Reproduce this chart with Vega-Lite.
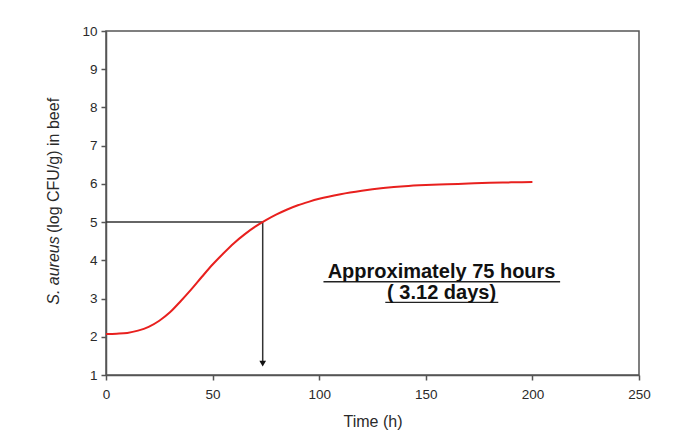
{
  "$schema": "https://vega.github.io/schema/vega-lite/v6.json",
  "width": 533,
  "height": 344,
  "autosize": {"type": "none"},
  "padding": {"left": 106, "top": 31, "right": 57, "bottom": 66},
  "background": "white",
  "config": {
    "font": "Liberation Sans",
    "view": {"stroke": "#555", "strokeWidth": 1.5},
    "axis": {
      "grid": false,
      "domainColor": "#555",
      "domainWidth": 1.5,
      "tickColor": "#555",
      "tickWidth": 1.5,
      "tickSize": 5,
      "labelFont": "Liberation Sans",
      "labelFontSize": 13.5,
      "labelColor": "#2a2a2a",
      "labelOverlap": false,
      "labelFlush": false,
      "titleFont": "Liberation Sans",
      "titleFontSize": 16,
      "titleFontWeight": "normal",
      "titleColor": "#2a2a2a"
    }
  },
  "resolve": {"scale": {"y": "shared"}, "axis": {"y": "independent"}},
  "datasets": {
    "curve": [
      {"t": 0, "v": 2.07}, {"t": 5, "v": 2.08}, {"t": 10, "v": 2.1}, {"t": 15, "v": 2.16},
      {"t": 20, "v": 2.26}, {"t": 25, "v": 2.42}, {"t": 30, "v": 2.64}, {"t": 35, "v": 2.93},
      {"t": 40, "v": 3.24}, {"t": 45, "v": 3.57}, {"t": 50, "v": 3.89}, {"t": 55, "v": 4.18},
      {"t": 60, "v": 4.45}, {"t": 65, "v": 4.68}, {"t": 70, "v": 4.88}, {"t": 75, "v": 5.05},
      {"t": 80, "v": 5.2}, {"t": 85, "v": 5.33}, {"t": 90, "v": 5.44}, {"t": 95, "v": 5.53},
      {"t": 100, "v": 5.61}, {"t": 110, "v": 5.73}, {"t": 120, "v": 5.82}, {"t": 130, "v": 5.89},
      {"t": 140, "v": 5.94}, {"t": 150, "v": 5.97}, {"t": 160, "v": 5.99}, {"t": 170, "v": 6.01},
      {"t": 180, "v": 6.03}, {"t": 190, "v": 6.04}, {"t": 200, "v": 6.05}
    ],
    "refs": [
      {"x": 0, "x2": 73.5, "y": 5, "y2": 5},
      {"x": 73.5, "x2": 73.5, "y": 5, "y2": 1.35}
    ],
    "underlines": [
      {"x": 102, "x2": 213, "y": 3.44, "y2": 3.44},
      {"x": 131, "x2": 184, "y": 2.9, "y2": 2.9}
    ],
    "arrow": [{"x": 73.5, "y": 1.3}],
    "notes": [
      {"x": 157.4, "y": 3.53, "label": "Approximately 75 hours"},
      {"x": 157.4, "y": 3.0, "label": "( 3.12 days)"}
    ]
  },
  "layer": [
    {
      "data": {"name": "refs"},
      "mark": {"type": "rule", "color": "#333", "strokeWidth": 1.5},
      "encoding": {
        "x": {"field": "x", "type": "quantitative", "scale": {"domain": [0, 250], "nice": false},
              "axis": {"values": [0, 50, 100, 150, 200, 250], "title": "Time (h)", "labelPadding": 7, "titlePadding": 13}},
        "x2": {"field": "x2"},
        "y": {"field": "y", "type": "quantitative", "scale": {"domain": [1, 10], "nice": false},
              "axis": {"values": [1, 2, 3, 4, 5, 6, 7, 8, 9, 10], "labelOverlap": false, "title": "(log CFU/g) in beef", "labelPadding": 4, "titleX": -45, "titleY": 134}},
        "y2": {"field": "y2"}
      }
    },
    {
      "data": {"name": "arrow"},
      "mark": {"type": "point", "shape": "triangle-down", "filled": true, "color": "#111", "size": 45, "opacity": 1},
      "encoding": {
        "x": {"field": "x", "type": "quantitative"},
        "y": {"field": "y", "type": "quantitative",
              "axis": {"orient": "left", "labels": false, "ticks": false, "domain": false, "title": "S. aureus", "titleFontStyle": "italic", "titleX": -45, "titleY": 239}}
      }
    },
    {
      "data": {"name": "curve"},
      "mark": {"type": "line", "color": "#e8201e", "strokeWidth": 2, "interpolate": "monotone"},
      "encoding": {
        "x": {"field": "t", "type": "quantitative"},
        "y": {"field": "v", "type": "quantitative", "axis": null}
      }
    },
    {
      "data": {"name": "underlines"},
      "mark": {"type": "rule", "color": "#222", "strokeWidth": 1.3},
      "encoding": {
        "x": {"field": "x", "type": "quantitative"},
        "x2": {"field": "x2"},
        "y": {"field": "y", "type": "quantitative", "axis": null},
        "y2": {"field": "y2"}
      }
    },
    {
      "data": {"name": "notes"},
      "mark": {"type": "text", "font": "Liberation Sans", "fontSize": 20, "fontWeight": "bold", "color": "#111", "align": "center", "baseline": "alphabetic"},
      "encoding": {
        "x": {"field": "x", "type": "quantitative"},
        "y": {"field": "y", "type": "quantitative", "axis": null},
        "text": {"field": "label"}
      }
    }
  ]
}
